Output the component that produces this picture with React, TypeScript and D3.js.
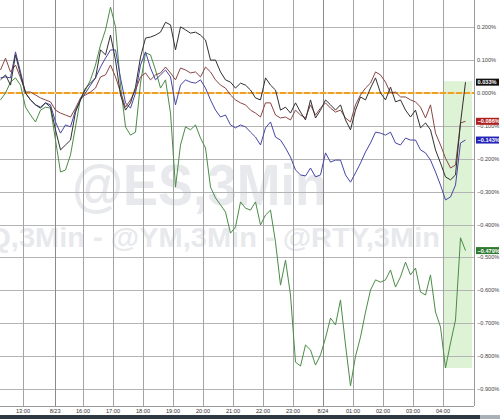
import React from "react";
import * as d3 from "d3";

// ---- Data (percent change, 10-minute samples starting ~12:15) ----
const START_HOUR = -0.75; // hours relative to 13:00 gridline
const STEP_HOUR = 1 / 6;

const blackSeries = [
  0.040, 0.055, 0.024, 0.116, 0.055, 0.000, -0.021, -0.036, -0.046, -0.030,
  -0.043, -0.112, -0.173, -0.158, -0.143, -0.058, -0.021, 0.015, 0.030, 0.046,
  0.131, 0.116, 0.176, 0.100, -0.006, -0.052, -0.030, 0.018, 0.109, 0.167,
  0.170, 0.176, 0.185, 0.215, 0.207, 0.131, 0.201, 0.192, 0.182, 0.185,
  0.176, 0.161, 0.100, 0.100, 0.064, 0.040, 0.033, 0.015, 0.030, 0.024,
  0.009, -0.015, -0.021, 0.046, 0.024, 0.009, -0.052, -0.043, -0.061, -0.030,
  -0.058, -0.082, -0.021, -0.076, -0.052, -0.021, -0.036, -0.052, -0.036, -0.082,
  -0.112, -0.052, -0.012, -0.021, 0.015, 0.046, 0.000, -0.021, 0.018, -0.027,
  -0.021, -0.052, -0.073, -0.052, -0.106, -0.091, -0.112, -0.173, -0.213, -0.255,
  -0.264, -0.249, -0.091, 0.033,
];

const redSeries = [
  0.070, 0.106, 0.064, 0.085, 0.046, 0.003, 0.003, -0.006, -0.015, -0.021,
  -0.027, -0.052, -0.061, -0.067, -0.073, -0.046, -0.015, -0.006, 0.003, 0.015,
  0.049, 0.055, 0.085, 0.049, 0.003, -0.043, -0.021, 0.009, 0.049, 0.061,
  0.040, 0.055, 0.061, 0.079, 0.061, 0.040, 0.076, 0.070, 0.061, 0.064,
  0.049, 0.079, 0.064, 0.040, 0.024, 0.015, -0.006, -0.021, -0.030, -0.036,
  -0.052, -0.061, -0.073, -0.030, -0.030, -0.067, -0.076, -0.073, -0.082, -0.052,
  -0.067, -0.076, -0.036, -0.067, -0.046, -0.030, -0.046, -0.058, -0.052, -0.076,
  -0.088, -0.036, -0.006, 0.015, 0.030, 0.064, 0.055, 0.033, 0.000, 0.003,
  -0.012, -0.012, -0.021, -0.027, -0.043, -0.076, -0.036, -0.122, -0.158, -0.198,
  -0.228, -0.219, -0.091, -0.086,
];

const blueSeries = [
  0.046, 0.049, 0.046, 0.125, 0.064, 0.000, -0.021, -0.036, -0.043, -0.030,
  -0.036, -0.088, -0.122, -0.097, -0.103, -0.052, -0.021, 0.000, 0.024, 0.046,
  0.079, 0.106, 0.131, 0.131, 0.046, -0.030, -0.046, 0.000, 0.085, 0.125,
  0.076, 0.040, 0.055, 0.070, 0.049, -0.036, 0.024, 0.040, 0.033, 0.030,
  0.040, 0.015, -0.021, -0.052, -0.073, -0.067, -0.097, -0.106, -0.097, -0.103,
  -0.119, -0.134, -0.158, -0.106, -0.088, -0.134, -0.143, -0.167, -0.195, -0.234,
  -0.249, -0.252, -0.228, -0.255, -0.249, -0.182, -0.210, -0.204, -0.204, -0.249,
  -0.271, -0.243, -0.213, -0.179, -0.152, -0.119, -0.122, -0.128, -0.119, -0.152,
  -0.158, -0.137, -0.143, -0.143, -0.173, -0.182, -0.204, -0.240, -0.280, -0.325,
  -0.316, -0.280, -0.152, -0.143,
];

const greenSeries = [
  -0.021, 0.000, 0.033, 0.046, 0.024, -0.043, -0.067, -0.088, -0.052, -0.043,
  -0.046, -0.143, -0.240, -0.234, -0.188, -0.103, -0.015, 0.009, 0.040, 0.085,
  0.146, 0.192, 0.261, 0.201, 0.024, -0.103, -0.128, -0.119, 0.030, 0.122,
  0.116, 0.070, 0.015, 0.040, -0.061, -0.286, -0.158, -0.103, -0.112, -0.097,
  -0.137, -0.167, -0.286, -0.319, -0.340, -0.362, -0.426, -0.407, -0.331, -0.350,
  -0.356, -0.331, -0.401, -0.371, -0.356, -0.453, -0.584, -0.508, -0.614, -0.818,
  -0.830, -0.766, -0.781, -0.827, -0.796, -0.745, -0.684, -0.705, -0.629, -0.766,
  -0.890, -0.800, -0.742, -0.666, -0.599, -0.568, -0.575, -0.568, -0.538, -0.590,
  -0.559, -0.514, -0.553, -0.532, -0.605, -0.614, -0.553, -0.666, -0.711, -0.836,
  -0.760, -0.690, -0.440, -0.479,
];

const xTickLabels = ["13:00", "8/23", "16:00", "17:00", "18:00", "19:00", "20:00", "21:00", "22:00", "23:00", "8/24", "01:00", "02:00", "03:00", "04:00"];
const xTickHours = [0, 1.07, 2, 3, 4, 5, 6, 7, 8, 9, 10, 11, 12, 13, 14];
const dayBreakLabels = ["8/23", "8/24"];
const yTickValues = [0.2, 0.1, 0.0, -0.1, -0.2, -0.3, -0.4, -0.5, -0.6, -0.7, -0.8, -0.9];
const highlightStartHour = 14;
const highlightEndHour = 14.97;

const seriesList = [
  { name: "@ES", values: greenSeries, color: "#4a8c46", badge: "#2f7a2f" },
  { name: "@NQ", values: blueSeries, color: "#4646a6", badge: "#2323b8" },
  { name: "@YM", values: redSeries, color: "#8a4545", badge: "#b01e1e" },
  { name: "@RTY", values: blackSeries, color: "#303030", badge: "#111111" },
];

const watermark1 = "@ES,3Min";
const watermark2 = "@NQ,3Min - @YM,3Min - @RTY,3Min";

export default function App() {
  const W = 500, H = 419;
  const plotR = 474, plotB = 406;
  const x = d3.scaleLinear().domain([-0.767, 15.033]).range([0, plotR]);
  const y = d3.scaleLinear().domain([0.2827, -0.9514]).range([0, plotB]);
  const timeOf = (i: number) => START_HOUR + i * STEP_HOUR;
  const line = d3
    .line<number>()
    .x((_, i) => x(timeOf(i)))
    .y((d) => y(d));

  const pct = (v: number) => d3.format(".3f")(v) + "%";

  const windowVals: number[] = [];
  seriesList.forEach((s) =>
    s.values.forEach((v, i) => {
      if (timeOf(i) >= highlightStartHour - 0.01) windowVals.push(v);
    })
  );
  const hiMax = d3.max(windowVals) as number;
  const hiMin = d3.min(windowVals) as number;

  const font = "'Liberation Sans', Arial, sans-serif";

  return (
    <div style={{ position: "absolute", left: 0, top: 0, width: W, height: H, overflow: "hidden" }}>
      <svg width={W} height={H} style={{ display: "block" }}>
        <rect x={0} y={0} width={W} height={H} fill="#ffffff" />
        <rect
          x={x(highlightStartHour)}
          y={y(hiMax) - 1}
          width={x(highlightEndHour) - x(highlightStartHour)}
          height={y(hiMin) - y(hiMax) + 1}
          fill="#def2d6"
        />
        <text
          x={72}
          y={205}
          fontFamily={font}
          fontWeight="bold"
          fontSize={57}
          fill="#e7e9ec"
          textLength={255}
          lengthAdjust="spacingAndGlyphs"
        >
          {watermark1}
        </text>
        <text
          x={-61}
          y={247}
          fontFamily={font}
          fontWeight="bold"
          fontSize={28}
          fill="#e7e9ec"
          textLength={501}
          lengthAdjust="spacingAndGlyphs"
        >
          {watermark2}
        </text>
        {yTickValues
          .filter((v) => v !== 0)
          .map((v) => (
            <line key={"h" + v} x1={0} x2={plotR} y1={Math.round(y(v)) + 0.5} y2={Math.round(y(v)) + 0.5} stroke="#b4b4b4" strokeWidth={1} />
          ))}
        {xTickHours.map((h, i) => (
          <line
            key={"v" + i}
            x1={Math.round(x(h)) + 0.5}
            x2={Math.round(x(h)) + 0.5}
            y1={0}
            y2={plotB}
            stroke={dayBreakLabels.includes(xTickLabels[i]) ? "#8a8a8a" : "#a4a4a4"}
            strokeWidth={1}
          />
        ))}
        <line x1={plotR + 0.5} x2={plotR + 0.5} y1={0} y2={plotB} stroke="#9a9a9a" />
        <line x1={0} x2={plotR} y1={plotB + 0.5} y2={plotB + 0.5} stroke="#9a9a9a" />
        <line x1={0} x2={plotR} y1={y(0)} y2={y(0)} stroke="#f8d79c" strokeWidth={2} />
        <line x1={0} x2={plotR} y1={y(0)} y2={y(0)} stroke="#f0a024" strokeWidth={2} strokeDasharray="6,2" />
        {seriesList.map((s) => (
          <path key={s.name} d={line(s.values) || ""} fill="none" stroke={s.color} strokeWidth={1} strokeLinejoin="round" />
        ))}
        {yTickValues.map((v) => (
          <text key={"yl" + v} x={477} y={y(v) + 2} fontFamily={font} fontSize={5.6} fill="#444">
            {pct(v)}
          </text>
        ))}
        {seriesList.map((s) => {
          const last = s.values[s.values.length - 1];
          const cy = y(last);
          return (
            <g key={"b" + s.name}>
              <rect x={476} y={cy - 3.5} width={23} height={7} fill={s.badge} />
              <text x={477.5} y={cy + 2} fontFamily={font} fontSize={5.6} fontWeight="bold" fill="#ffffff">
                {pct(last)}
              </text>
            </g>
          );
        })}
        {xTickHours.map((h, i) => (
          <text key={"xl" + i} x={x(h)} y={413} textAnchor="middle" fontFamily={font} fontSize={5.6} fill="#333">
            {xTickLabels[i]}
          </text>
        ))}
        <rect x={0} y={415} width={W} height={4} fill="#2f3944" />
        <rect x={480} y={415} width={20} height={4} fill="#a9b0b6" />
      </svg>
    </div>
  );
}
